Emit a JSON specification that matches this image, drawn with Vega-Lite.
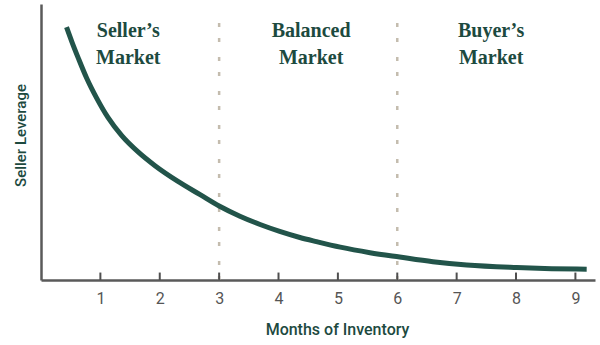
{
  "$schema": "https://vega.github.io/schema/vega-lite/v6.json",
  "autosize": "none",
  "width": 554,
  "height": 276,
  "padding": {"left": 41, "top": 4, "right": 5, "bottom": 65},
  "background": "white",
  "config": {"view": {"stroke": null}},
  "datasets": {
    "curve": [
      {"months": 0.43, "leverage": 91.6},
      {"months": 0.52, "leverage": 86.3},
      {"months": 0.63, "leverage": 80.3},
      {"months": 0.77, "leverage": 73.1},
      {"months": 0.94, "leverage": 65.8},
      {"months": 1.13, "leverage": 58.8},
      {"months": 1.36, "leverage": 52.3},
      {"months": 1.64, "leverage": 46.3},
      {"months": 1.92, "leverage": 41.4},
      {"months": 2.3, "leverage": 35.8},
      {"months": 2.68, "leverage": 30.9},
      {"months": 3.0, "leverage": 26.8},
      {"months": 3.35, "leverage": 23.1},
      {"months": 3.69, "leverage": 20.1},
      {"months": 4.02, "leverage": 17.6},
      {"months": 4.36, "leverage": 15.4},
      {"months": 4.64, "leverage": 13.9},
      {"months": 5.04, "leverage": 11.9},
      {"months": 5.54, "leverage": 9.9},
      {"months": 6.04, "leverage": 8.3},
      {"months": 6.6, "leverage": 6.6},
      {"months": 7.17, "leverage": 5.4},
      {"months": 8.01, "leverage": 4.5},
      {"months": 8.6, "leverage": 4.1},
      {"months": 9.19, "leverage": 3.9}
    ],
    "dividers": [
      {"months": 3, "bottom": 0, "top": 97.8},
      {"months": 6, "bottom": 0, "top": 97.8}
    ],
    "ticks": [
      {"months": 1, "bottom": 0, "top": 2.7},
      {"months": 2, "bottom": 0, "top": 2.7},
      {"months": 3, "bottom": 0, "top": 2.7},
      {"months": 4, "bottom": 0, "top": 2.7},
      {"months": 5, "bottom": 0, "top": 2.7},
      {"months": 6, "bottom": 0, "top": 2.7},
      {"months": 7, "bottom": 0, "top": 2.7},
      {"months": 8, "bottom": 0, "top": 2.7},
      {"months": 9, "bottom": 0, "top": 2.7}
    ],
    "labels": [
      {"months": 1.47, "leverage": 88.0, "label": "Seller’s"},
      {"months": 1.47, "leverage": 78.4, "label": "Market"},
      {"months": 4.55, "leverage": 88.0, "label": "Balanced"},
      {"months": 4.55, "leverage": 78.4, "label": "Market"},
      {"months": 7.58, "leverage": 88.0, "label": "Buyer’s"},
      {"months": 7.58, "leverage": 78.4, "label": "Market"}
    ]
  },
  "layer": [
    {
      "data": {"name": "dividers"},
      "mark": {"type": "rule", "color": "#c4bcae", "strokeWidth": 2.5, "strokeDash": [4, 11, 4, 15]},
      "encoding": {
        "x": {"field": "months", "type": "quantitative"},
        "y": {"field": "bottom", "type": "quantitative"},
        "y2": {"field": "top"}
      }
    },
    {
      "data": {"name": "ticks"},
      "mark": {"type": "rule", "color": "#4f4f4f", "strokeWidth": 2},
      "encoding": {
        "x": {"field": "months", "type": "quantitative"},
        "y": {"field": "bottom", "type": "quantitative"},
        "y2": {"field": "top"}
      }
    },
    {
      "data": {"name": "curve"},
      "mark": {"type": "line", "color": "#22544a", "strokeWidth": 5, "interpolate": "monotone", "strokeCap": "butt"},
      "encoding": {
        "x": {
          "field": "months", "type": "quantitative",
          "scale": {"domain": [0, 9.33], "nice": false, "zero": false},
          "axis": {
            "title": "Months of Inventory",
            "values": [1, 2, 3, 4, 5, 6, 7, 8, 9],
            "format": "d",
            "grid": false,
            "domainColor": "#5a5a5a", "domainWidth": 2.5,
            "ticks": false,
            "labelFont": "Roboto",
            "labelFontSize": 16, "labelColor": "#555555", "labelPadding": 10,
            "titleFont": "Roboto",
            "titleFontSize": 16, "titleFontWeight": 500, "titleColor": "#1d4a3f",
            "titlePadding": 15,
            "titleX": 296
          }
        },
        "y": {
          "field": "leverage", "type": "quantitative",
          "scale": {"domain": [0, 100], "nice": false},
          "axis": {
            "title": "Seller Leverage",
            "grid": false, "ticks": false, "labels": false,
            "domainColor": "#5a5a5a", "domainWidth": 2.5,
            "titleFont": "Roboto",
            "titleFontSize": 15, "titleFontWeight": 500, "titleColor": "#1d4a3f",
            "titlePadding": 13,
            "titleY": 131
          }
        }
      }
    },
    {
      "data": {"name": "labels"},
      "mark": {"type": "text", "font": "Liberation Serif", "fontWeight": "bold", "fontSize": 20, "color": "#1d4a3f", "align": "center", "baseline": "alphabetic"},
      "encoding": {
        "x": {"field": "months", "type": "quantitative"},
        "y": {"field": "leverage", "type": "quantitative"},
        "text": {"field": "label", "type": "nominal"}
      }
    }
  ]
}
